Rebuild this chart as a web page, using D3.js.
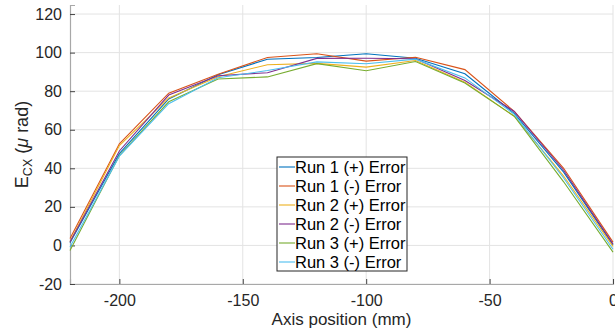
<!DOCTYPE html>
<html>
<head>
<meta charset="utf-8">
<script src="https://cdn.jsdelivr.net/npm/d3@7"></script>
<style>
  body { margin: 0; background: #fff; }
  svg { display: block; font-family: "Liberation Sans", Arial, sans-serif; }
</style>
</head>
<body>
<svg id="chart" width="615" height="330"></svg>
<script>
// data
var positions = [-220, -200, -180, -160, -140, -120, -100, -80, -60, -40, -20, 0];
var run1Plus  = [1.4, 47.6, 76, 88.5, 96.6, 97.5, 99.4, 97.1, 89, 68.5, 38, 0.3];
var run1Minus = [3.6, 52.7, 79, 88.8, 97.5, 99.4, 95.6, 97.6, 91.2, 69.5, 40, 1.7];
var run2Plus  = [2.1, 51.8, 76.5, 87.5, 93.7, 94.4, 92.5, 95.9, 84.7, 67, 36, -0.5];
var run2Minus = [1.8, 49, 78, 88, 89.6, 97, 97.1, 96.8, 85.5, 69.5, 39, 0.7];
var run3Plus  = [-2.6, 46.6, 74.5, 86.3, 87.4, 94.3, 90.6, 95.4, 84.2, 67, 33, -3.5];
var run3Minus = [-0.8, 46.3, 73.5, 87, 90.7, 95.2, 94.2, 96.6, 86.9, 68, 35, -2];
var seriesNames = ["Run 1 (+) Error", "Run 1 (-) Error", "Run 2 (+) Error",
                   "Run 2 (-) Error", "Run 3 (+) Error", "Run 3 (-) Error"];
var seriesColors = ["#0072BD", "#D95319", "#EDB120", "#7E2F8E", "#77AC30", "#4DBEEE"];
var xTicks = [-200, -150, -100, -50, 0];
var yTicks = [-20, 0, 20, 40, 60, 80, 100, 120];

var allSeries = [run1Plus, run1Minus, run2Plus, run2Minus, run3Plus, run3Minus];

var svg = d3.select("#chart");
var pl = 70, pr = 613, pt = 5, pb = 284;

var x = d3.scaleLinear().domain([-220, 0]).range([pl, pr]);
var y = d3.scaleLinear().domain([-20, 124.7]).range([pb, pt]);

// grid
svg.append("g").selectAll("line").data(xTicks).join("line")
  .attr("x1", d => x(d)).attr("x2", d => x(d))
  .attr("y1", pt).attr("y2", pb)
  .attr("stroke", "#e3e3e3").attr("stroke-width", 1);
svg.append("g").selectAll("line").data(yTicks).join("line")
  .attr("x1", pl).attr("x2", pr)
  .attr("y1", d => y(d)).attr("y2", d => y(d))
  .attr("stroke", "#e3e3e3").attr("stroke-width", 1);

// axes
var xAxis = svg.append("g")
  .attr("transform", "translate(0," + pb + ")")
  .call(d3.axisBottom(x).tickValues(xTicks).tickSize(-5).tickPadding(11)
    .tickFormat(d => String(d)));
var yAxis = svg.append("g")
  .attr("transform", "translate(" + pl + ",0)")
  .call(d3.axisLeft(y).tickValues(yTicks).tickSize(-5).tickPadding(8)
    .tickFormat(d => String(d)));
[xAxis, yAxis].forEach(function(g) {
  g.select(".domain").attr("stroke", "#a8a8a8").attr("stroke-width", 1.2);
  g.selectAll(".tick line").attr("stroke", "#444");
  g.selectAll(".tick text").attr("fill", "#262626")
    .style("font-size", "16px").style("font-family", "'Liberation Sans', Arial, sans-serif");
});

// lines
var line = d3.line().x((d, i) => x(positions[i])).y(d => y(d));
svg.append("g").selectAll("path").data(allSeries).join("path")
  .attr("d", line)
  .attr("fill", "none")
  .attr("stroke", (d, i) => seriesColors[i])
  .attr("stroke-width", 1.1);

// axis labels
svg.append("text")
  .attr("x", (pl + pr) / 2).attr("y", 325)
  .attr("text-anchor", "middle")
  .attr("fill", "#262626").style("font-size", "17px")
  .text("Axis position (mm)");

var yl = svg.append("text")
  .attr("transform", "translate(28," + ((pt + pb) / 2) + ") rotate(-90)")
  .attr("text-anchor", "middle")
  .attr("fill", "#262626").style("font-size", "18px");
yl.append("tspan").text("E");
yl.append("tspan").attr("dy", 4).style("font-size", "12.5px").text("CX");
yl.append("tspan").attr("dy", -4).text(" (");
yl.append("tspan").style("font-style", "italic").text("\u03bc");
yl.append("tspan").text(" rad)");

// legend
var lg = svg.append("g").attr("transform", "translate(277,157)");
lg.append("rect")
  .attr("width", 130).attr("height", 114)
  .attr("fill", "#fff").attr("stroke", "#262626").attr("stroke-width", 1);
var rows = lg.selectAll("g").data(seriesNames).join("g")
  .attr("transform", (d, i) => "translate(0," + (10 + i * 19) + ")");
rows.append("line")
  .attr("x1", 2).attr("x2", 18)
  .attr("stroke", (d, i) => seriesColors[i]).attr("stroke-width", 1.1);
rows.append("text")
  .attr("x", 18).attr("dy", "0.35em")
  .attr("fill", "#000").style("font-size", "16.5px")
  .text(d => d);
</script>
</body>
</html>
